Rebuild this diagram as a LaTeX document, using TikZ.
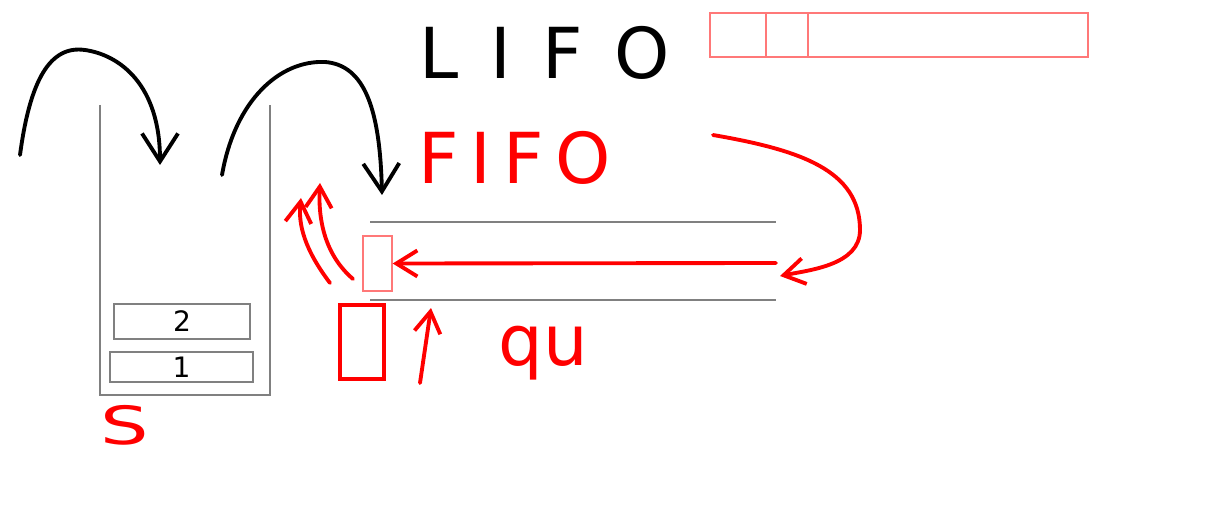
\documentclass[tikz,border=0pt]{standalone}
\usepackage{fontspec}
\setsansfont{DejaVu Sans}
\usetikzlibrary{positioning, arrows.meta, calc}
\definecolor{penred}{RGB}{255,0,0}
\definecolor{wallgray}{RGB}{128,128,128}
\definecolor{boxred}{RGB}{255,120,120}

\begin{document}
\begin{tikzpicture}[x=0.02cm, y=-0.02cm,
    pen/.style={line width=2.2pt, line cap=round, line join=round},
    wall/.style={draw=wallgray, line width=0.9pt},
    cell/.style={rectangle, draw=wallgray, line width=0.9pt, inner sep=0pt},
    slot/.style={rectangle, draw=boxred, line width=0.8pt, inner sep=0pt},
    hand/.style={font=\sffamily\fontsize{40}{40}\selectfont, inner sep=0pt},
    blackbarb/.style={-{Straight Barb[length=0.56cm, width=0.72cm]}},
    redbarb/.style={-{Straight Barb[length=0.42cm, width=0.52cm]}}]
    \useasboundingbox (0,0) rectangle (1208,510);

    % Stack
    \draw[wall] (100,105) -- (100,395) -- (270,395) -- (270,105);
    \node[cell, minimum width=2.72cm, minimum height=0.7cm] (two) at (182,321.5) {};
    \node[cell, minimum width=2.86cm, minimum height=0.6cm] (one) at (181.5,367) {};
    \node[font=\sffamily\fontsize{16}{16}\selectfont, inner sep=0pt] at (two) {2};
    \node[font=\sffamily\fontsize{16}{16}\selectfont, inner sep=0pt] at (one) {1};
    \node[hand, text=penred, font=\sffamily\fontsize{30}{30}\selectfont] (S) at (125,425) {\scalebox{1.45}[1]{S}};

    % Titles
    \node[hand] (lifo) at (545,53) {L\hspace{0.45em}I\hspace{0.45em}F\hspace{0.45em}O};
    \node[hand, text=penred] (fifo) at (515,158) {F\hspace{0.17em}I\hspace{0.17em}F\hspace{0.17em}O};

    % LIFO bar
    \node[slot, minimum width=7.56cm, minimum height=0.88cm] (bar) at (899,35) {};
    \node[slot, minimum width=0.84cm, minimum height=0.88cm] (barcell) at (787,35) {};

    % Queue
    \draw[wall] (370,222) -- (776,222);
    \draw[wall] (370,300) -- (776,300);
    \node[slot, minimum width=0.58cm, minimum height=1.1cm] (front) at (377.5,263.5) {};
    \node[rectangle, draw=penred, line width=2pt, minimum width=0.88cm, minimum height=1.48cm, inner sep=0pt] (mark) at (362,342) {};
    \node[hand, text=penred] (qu) at (543,353) {qu};

    % Free ends
    \coordinate (pushfrom) at (20,155);
    \coordinate (pushto) at (160,165);
    \coordinate (popfrom) at (222,175);
    \coordinate (popto) at (382,195);
    \coordinate (loopfrom) at (713,135);
    \coordinate (loopto) at (780,276);
    \coordinate (tail) at (776,263);
    \coordinate (outA) at (320,183);
    \coordinate (outB) at (301,198);
    \coordinate (ptrfrom) at (420,383);
    \coordinate (ptrto) at (431,308);

    % Black arcs
    \draw[pen, blackbarb] (pushfrom) .. controls (30,80) and (50,45) .. (85,50)
        .. controls (120,55) and (160,85) .. (pushto);
    \draw[pen, blackbarb] (popfrom) .. controls (235,100) and (280,60) .. (325,62)
        .. controls (365,65) and (380,110) .. (popto);

    % Red arrows
    \draw[pen, penred, redbarb] (loopfrom) .. controls (800,150) and (860,170) .. (860,230)
        .. controls (860,265) and (810,270) .. (loopto);
    \draw[pen, penred, redbarb] (tail) -- (front.east);
    \draw[pen, penred, redbarb] (353,279) .. controls (325,255) and (318,220) .. (outA);
    \draw[pen, penred, redbarb] (330,283) .. controls (305,250) and (298,225) .. (outB);
    \draw[pen, penred, redbarb] (ptrfrom) -- (ptrto);
\end{tikzpicture}
\end{document}
